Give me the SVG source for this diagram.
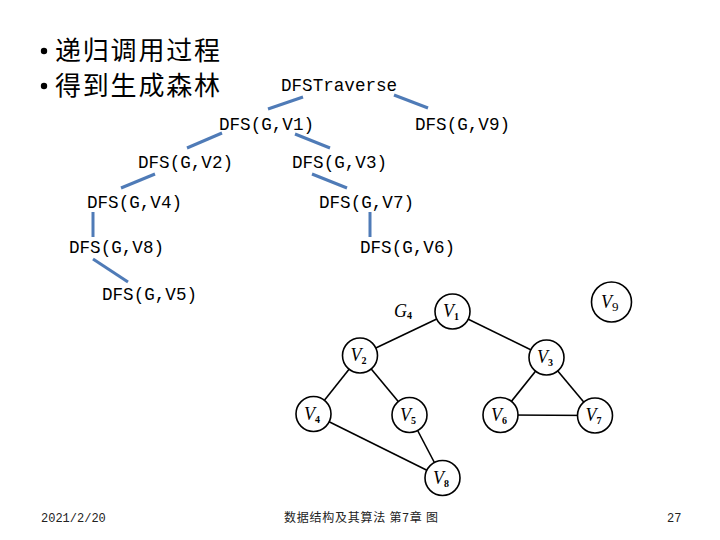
<svg xmlns="http://www.w3.org/2000/svg" width="720" height="540" viewBox="0 0 720 540">
<style>
.bul{font-family:"Noto Sans CJK SC","Noto Sans",sans-serif;font-size:26px;fill:#000}
.t{font-family:"Liberation Mono","Courier New",monospace;font-size:17.6px;fill:#000}
.tl{stroke:#4f7bb7;stroke-width:3;fill:none}
.ge{stroke:#000;stroke-width:1.6;fill:none}
.gn{stroke:#000;stroke-width:1.6;fill:#fff}
.gl{font-family:"Liberation Serif","Times New Roman",serif;font-style:italic;font-size:18px;fill:#000}
.sub{font-style:normal;font-weight:bold;font-size:10px}
.ft{font-family:"Liberation Mono","Noto Sans CJK SC",monospace;font-size:12px;fill:#222}
.fc{font-family:"Noto Sans CJK SC",sans-serif;font-size:12px;fill:#222}
</style>
<rect width="720" height="540" fill="#fff"/>
<g id="heading">
<circle cx="44" cy="51" r="3.2" fill="#000"/>
<text class="bul" x="55" y="60" textLength="165" lengthAdjust="spacing">递归调用过程</text>
<circle cx="44" cy="86" r="3.2" fill="#000"/>
<text class="bul" x="55" y="95" textLength="165" lengthAdjust="spacing">得到生成森林</text>
</g>
<g id="tree-connectors">
<line class="tl" x1="268" y1="109" x2="303" y2="97"/>
<line class="tl" x1="394" y1="95" x2="428" y2="108"/>
<line class="tl" x1="222" y1="133" x2="187" y2="148"/>
<line class="tl" x1="295" y1="134" x2="330" y2="148"/>
<line class="tl" x1="155" y1="174" x2="121" y2="188"/>
<line class="tl" x1="312" y1="174" x2="347" y2="188"/>
<line class="tl" x1="93" y1="212" x2="93" y2="237"/>
<line class="tl" x1="370" y1="212" x2="370" y2="237"/>
<line class="tl" x1="93" y1="259" x2="128" y2="282"/>
</g>
<g id="t-root"><text class="t" x="281" y="91">DFSTraverse</text></g>
<g id="t-v1"><text class="t" x="219" y="130">DFS(G,V1)</text></g>
<g id="t-v9"><text class="t" x="415" y="130">DFS(G,V9)</text></g>
<g id="t-v2"><text class="t" x="138" y="168">DFS(G,V2)</text></g>
<g id="t-v3"><text class="t" x="292" y="168">DFS(G,V3)</text></g>
<g id="t-v4"><text class="t" x="87" y="208">DFS(G,V4)</text></g>
<g id="t-v7"><text class="t" x="319" y="208">DFS(G,V7)</text></g>
<g id="t-v8"><text class="t" x="69" y="253">DFS(G,V8)</text></g>
<g id="t-v6"><text class="t" x="360" y="253">DFS(G,V6)</text></g>
<g id="t-v5"><text class="t" x="102" y="300">DFS(G,V5)</text></g>
<g id="graph-edges">
<line class="ge" x1="452.5" y1="311.5" x2="360" y2="355.5"/>
<line class="ge" x1="452.5" y1="311.5" x2="546.5" y2="357.5"/>
<line class="ge" x1="360" y1="355.5" x2="313.5" y2="414"/>
<line class="ge" x1="360" y1="355.5" x2="409.5" y2="415"/>
<line class="ge" x1="546.5" y1="357.5" x2="500.5" y2="415"/>
<line class="ge" x1="546.5" y1="357.5" x2="595" y2="415.5"/>
<line class="ge" x1="500.5" y1="415" x2="595" y2="415.5"/>
<line class="ge" x1="313.5" y1="414" x2="442.5" y2="478"/>
<line class="ge" x1="409.5" y1="415" x2="442.5" y2="478"/>
</g>
<g id="g4-label"><text class="gl" x="394" y="317">G<tspan class="sub" dy="2">4</tspan></text></g>
<g id="n-v1"><circle class="gn" cx="452.5" cy="311.5" r="17.5"/><text class="gl" x="443" y="317">V<tspan class="sub" dy="3">1</tspan></text></g>
<g id="n-v2"><circle class="gn" cx="360" cy="355.5" r="17.5"/><text class="gl" x="350.5" y="361">V<tspan class="sub" dy="3">2</tspan></text></g>
<g id="n-v3"><circle class="gn" cx="546.5" cy="357.5" r="17.5"/><text class="gl" x="537" y="363">V<tspan class="sub" dy="3">3</tspan></text></g>
<g id="n-v4"><circle class="gn" cx="313.5" cy="414" r="17.5"/><text class="gl" x="304" y="419.5">V<tspan class="sub" dy="3">4</tspan></text></g>
<g id="n-v5"><circle class="gn" cx="409.5" cy="415" r="17.5"/><text class="gl" x="400" y="420.5">V<tspan class="sub" dy="3">5</tspan></text></g>
<g id="n-v6"><circle class="gn" cx="500.5" cy="415" r="17.5"/><text class="gl" x="491" y="420.5">V<tspan class="sub" dy="3">6</tspan></text></g>
<g id="n-v7"><circle class="gn" cx="595" cy="415.5" r="17.5"/><text class="gl" x="585.5" y="421">V<tspan class="sub" dy="3">7</tspan></text></g>
<g id="n-v8"><circle class="gn" cx="442.5" cy="478" r="17.5"/><text class="gl" x="433" y="483.5">V<tspan class="sub" dy="3">8</tspan></text></g>
<g id="n-v9"><circle class="gn" cx="611.5" cy="302" r="20"/><text class="gl" x="601" y="307.5">V<tspan style="font-style:normal;font-size:13px" dy="3">9</tspan></text></g>
<g id="footer">
<text class="ft" x="41" y="522">2021/2/20</text>
<text class="fc" x="284" y="522" textLength="154" lengthAdjust="spacing">数据结构及其算法 第7章 图</text>
<text class="ft" x="667" y="522">27</text>
</g>
</svg>
